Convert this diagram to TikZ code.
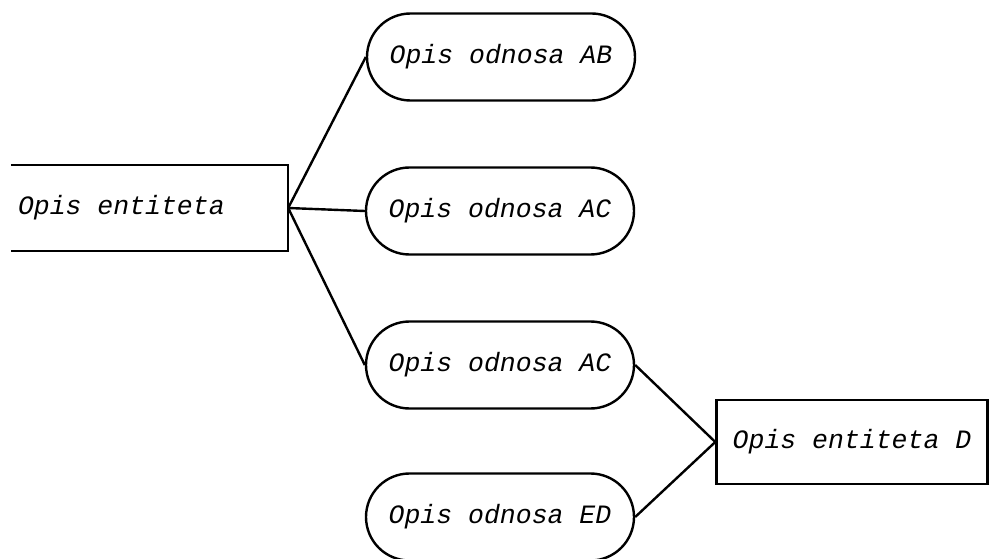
\documentclass[tikz,border=0pt]{standalone}
\usepackage{fontspec}
\setmonofont{Liberation Mono}
\usepackage{tikz}
\usetikzlibrary{shapes}
\usetikzlibrary{positioning}

\begin{document}
\begin{tikzpicture}[x=1pt,y=-1pt,line width=2.4pt,
    every node/.style={font=\fontsize{26.5}{30}\selectfont\ttfamily\itshape},
    rel/.style={draw,rounded rectangle,minimum width=268pt,minimum height=87pt,inner sep=0pt},
    ent/.style={minimum height=84pt,inner sep=0pt}]
		\useasboundingbox (0,0) rectangle (989,559);
		\node[ent,minimum width=275pt]  (e) at (149.5,208) {\makebox[263pt][l]{Opis entiteta}};
		\node[rel]  (ab) at (501,57) {Opis odnosa AB};
		\node[rel]  (ac1) at (500,211) {Opis odnosa AC};
		\node[rel]  (ac2) at (500,365) {Opis odnosa AC};
		\node[rel]  (ed) at (500,517) {Opis odnosa ED};
		\node[ent,draw,minimum width=271pt]  (d) at (852,442) {Opis entiteta D};
		\draw (e.north west) -- (e.north east) -- (e.south east) -- (e.south west);
		\draw (e.east) to (ab.west);
		\draw (e.east) to (ac1.west);
		\draw (e.east) to (ac2.west);
		\draw (ac2.east) to (d.west);
		\draw (ed.east) to (d.west);
    \end{tikzpicture}
\end{document}
